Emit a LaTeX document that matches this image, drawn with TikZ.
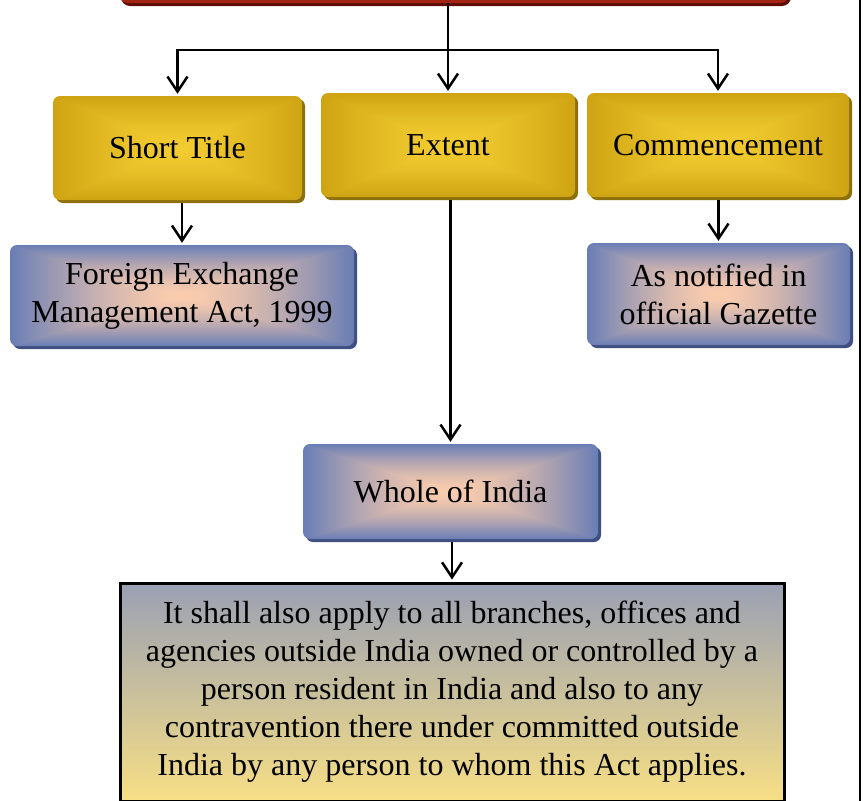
\documentclass[tikz,border=0pt]{standalone}
\usepackage{fontspec}
\setmainfont{Liberation Serif}
\usetikzlibrary{arrows.meta,shadows}

% Rectangular "from centre" gradients: t = max(|x|,|y|)/25 (the node box spans -25bp..25bp),
% colour = centre + t^p * (edge - centre)
\pgfdeclarefunctionalshading{goldbox}{\pgfpoint{-50bp}{-50bp}}{\pgfpoint{50bp}{50bp}}{}{
  abs exch abs 2 copy lt {exch} if pop
  25 div 1 2 copy gt {exch} if pop
  1.4 exp dup dup
  -0.12 mul 0.19 add
  exch
  -0.16 mul 0.80 add
  exch
  3 -1 roll
  -0.14 mul 0.95 add
  3 1 roll
}
\pgfdeclarefunctionalshading{bluebox}{\pgfpoint{-50bp}{-50bp}}{\pgfpoint{50bp}{50bp}}{}{
  abs exch abs 2 copy lt {exch} if pop
  25 div 1 2 copy gt {exch} if pop
  1.5 exp dup dup
  0.03 mul 0.68 add
  exch
  -0.31 mul 0.80 add
  exch
  3 -1 roll
  -0.57 mul 0.98 add
  3 1 roll
}

\definecolor{goldshade}{HTML}{8C700C}
\definecolor{blueshade}{HTML}{3F5080}
\definecolor{headred}{HTML}{A42414}
\definecolor{headshade}{HTML}{5E0E06}
\definecolor{notetop}{HTML}{9AA0B4}
\definecolor{notebottom}{HTML}{F7DF85}

\tikzset{
  box/.style={rectangle, rounded corners=7pt, inner sep=0pt, align=center,
    font=\fontsize{32}{38}\selectfont},
  goldnode/.style={box, shade, shading=goldbox,
    drop shadow={shadow xshift=3pt, shadow yshift=-3pt, fill=goldshade, opacity=1}},
  bluenode/.style={box, shade, shading=bluebox,
    drop shadow={shadow xshift=3pt, shadow yshift=-3pt, fill=blueshade, opacity=1}},
  headnode/.style={rectangle, rounded corners=9pt, fill=headred,
    drop shadow={shadow xshift=2pt, shadow yshift=-3pt, fill=headshade, opacity=1}},
  notenode/.style={rectangle, draw=black, line width=3pt, inner sep=0pt, align=center,
    top color=notetop, bottom color=notebottom, font=\fontsize{32}{38}\selectfont},
  link/.style={draw=black, line width=2.5pt},
  arr/.style={link, -{Straight Barb[length=15pt,width=20pt,line width=2.5pt]}, shorten >=2pt},
}

\begin{document}
\begin{tikzpicture}[x=1pt, y=-1pt]
  \useasboundingbox (0,0) rectangle (863,801);

  % heading box, only its lower edge shows
  \node[headnode, minimum width=670pt, minimum height=86pt] (head) at (454,-40) {};

  % first level
  \node[goldnode, minimum width=249pt, minimum height=104pt] (short) at (177.5,148) {Short Title};
  \node[goldnode, minimum width=254pt, minimum height=104pt] (extent) at (448,145) {Extent};
  \node[goldnode, minimum width=262pt, minimum height=104pt] (comm) at (718,145) {Commencement};

  % second level
  \node[bluenode, minimum width=344pt, minimum height=101pt] (fema) at (182,295.5)
    {Foreign Exchange\\Management Act, 1999};
  \node[bluenode, minimum width=263pt, minimum height=102pt] (gazette) at (718.5,294)
    {As notified in\\official Gazette};
  \node[bluenode, minimum width=295pt, minimum height=95pt] (india) at (450.5,491.5)
    {Whole of India};

  % note box
  \node[notenode, minimum width=664pt, minimum height=218pt] (note) at (452,692)
    {It shall also apply to all branches, offices and\\
     agencies outside India owned or controlled by a\\
     person resident in India and also to any\\
     contravention there under committed outside\\
     India by any person to whom this Act applies.};

  % connectors
  \coordinate (fork) at (448,50);
  \draw[link] (head.south -| fork) -- (fork);
  \draw[arr] (fork) -| (short.north);
  \draw[arr] (fork) -- (extent.north);
  \draw[arr] (fork) -| (comm.north);
  \draw[arr] ([yshift=-3pt]short.south -| fema.north) -- (fema.north);
  \draw[arr] ([yshift=-3pt]extent.south -| india.north) -- (india.north);
  \draw[arr] ([yshift=-3pt]comm.south -| gazette.north) -- (gazette.north);
  \draw[arr] ([yshift=-3pt]india.south -| note.north) -- (note.north);

  % page rule on the right
  \coordinate (ruletop) at (860,0);
  \coordinate (rulebottom) at (860,801);
  \draw[line width=2.2pt] (ruletop) -- (rulebottom);
\end{tikzpicture}
\end{document}
